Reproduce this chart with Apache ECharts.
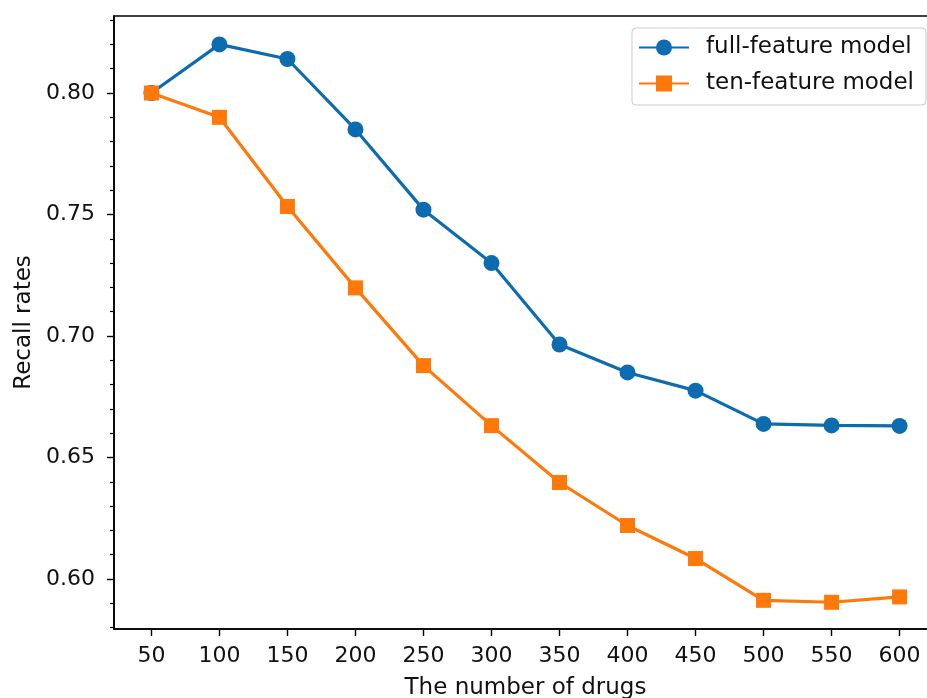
<!DOCTYPE html>
<html>
<head>
<meta charset="utf-8">
<script src="https://cdn.jsdelivr.net/npm/echarts@6/dist/echarts.min.js"></script>
<style>html,body{margin:0;padding:0;background:#fff}#c{width:927px;height:698px}</style>
</head>
<body>
<div id="c"></div>
<script>
const drugs = [50, 100, 150, 200, 250, 300, 350, 400, 450, 500, 550, 600];
const fullFeature = [0.800, 0.820, 0.814, 0.785, 0.752, 0.730, 0.6965, 0.685, 0.6775, 0.6638, 0.6632, 0.6630];
const tenFeature = [0.800, 0.790, 0.7533, 0.7198, 0.6878, 0.6631, 0.6397, 0.6220, 0.6084, 0.5912, 0.5904, 0.5926];
const xTicks = [50, 100, 150, 200, 250, 300, 350, 400, 450, 500, 550, 600];
const yTicks = [0.60, 0.65, 0.70, 0.75, 0.80];
const yMinorTicks = [0.58, 0.59, 0.61, 0.62, 0.63, 0.64, 0.66, 0.67, 0.68, 0.69, 0.71, 0.72, 0.73, 0.74, 0.76, 0.77, 0.78, 0.79, 0.81, 0.82, 0.83];
const seriesNames = ['full-feature model', 'ten-feature model'];

const FONT = 'DejaVu Sans';
const BLUE = '#0d6bb0';
const ORANGE = '#ff790a';
const xMin = 22.5, xMax = 627.5, yMin = 0.5794, yMax = 0.8317;

const chart = echarts.init(document.getElementById('c'), null, {renderer: 'canvas'});
chart.setOption({
  animation: false,
  backgroundColor: '#fff',
  grid: {left: 114, top: 16, width: 823, height: 613, show: true, borderColor: '#000', borderWidth: 1.6,
         backgroundColor: 'transparent', outerBoundsMode: 'none', containLabel: false},
  legend: {
    data: seriesNames,
    orient: 'vertical',
    right: 1, top: 28,
    padding: [8, 12, 10, 6],
    itemGap: 13,
    itemWidth: 50, itemHeight: 20,
    borderColor: '#cccccc', borderWidth: 1, borderRadius: 4,
    backgroundColor: '#fff',
    textStyle: {fontFamily: FONT, fontSize: 23, color: '#111', padding: [0, 0, 0, 12]}
  },
  xAxis: {
    type: 'value', min: xMin, max: xMax,
    name: 'The number of drugs', nameLocation: 'middle', nameGap: 48,
    nameTextStyle: {fontFamily: FONT, fontSize: 23, color: '#111'},
    axisLine: {show: true, onZero: false, lineStyle: {color: '#000', width: 1.6}},
    axisTick: {show: true, length: 7, lineStyle: {color: '#000', width: 1.4}, customValues: xTicks},
    axisLabel: {fontFamily: FONT, fontSize: 22, color: '#111', margin: 16, customValues: xTicks, formatter: v => String(Math.round(v))},
    splitLine: {show: false}
  },
  yAxis: [{
    type: 'value', min: yMin, max: yMax,
    name: 'Recall rates', nameLocation: 'middle', nameGap: 78,
    nameTextStyle: {fontFamily: FONT, fontSize: 23, color: '#111'},
    axisLine: {show: true, onZero: false, lineStyle: {color: '#000', width: 1.6}},
    axisTick: {show: true, length: 7, lineStyle: {color: '#000', width: 1.4}, customValues: yTicks},
    axisLabel: {fontFamily: FONT, fontSize: 22, color: '#111', margin: 19, customValues: yTicks, formatter: v => v.toFixed(2)},
    splitLine: {show: false}
  }, {
    type: 'value', min: yMin, max: yMax, position: 'left', offset: 0,
    axisLine: {show: false, onZero: false},
    axisTick: {show: true, length: 4, lineStyle: {color: '#000', width: 1.2}, customValues: yMinorTicks},
    axisLabel: {show: false},
    splitLine: {show: false}
  }],
  series: [{
    name: seriesNames[0], type: 'line',
    data: drugs.map((d, i) => [d, fullFeature[i]]),
    symbol: 'circle', symbolSize: 16,
    lineStyle: {color: BLUE, width: 3.2},
    itemStyle: {color: BLUE},
    z: 3
  }, {
    name: seriesNames[1], type: 'line',
    data: drugs.map((d, i) => [d, tenFeature[i]]),
    symbol: 'rect', symbolSize: 15,
    lineStyle: {color: ORANGE, width: 3.2},
    itemStyle: {color: ORANGE},
    z: 4
  }]
});
</script>
</body>
</html>
